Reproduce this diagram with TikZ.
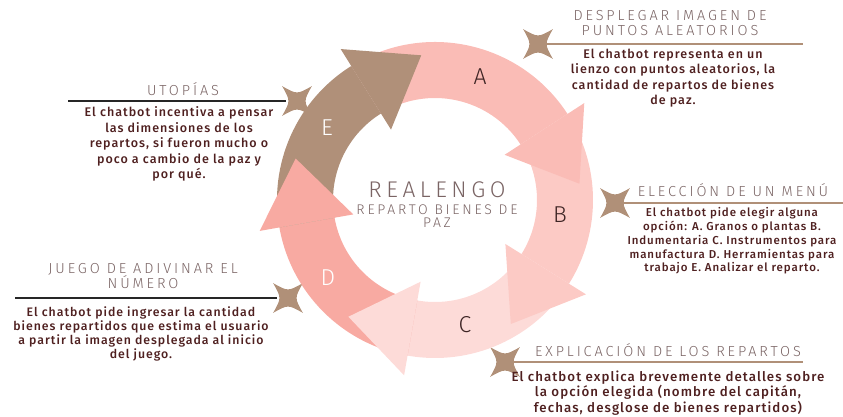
\documentclass[tikz,border=0pt]{standalone}
\usepackage{fontspec}
\setmainfont{Fira Sans}
\newfontfamily\thinfont{Fira Sans Light}[LetterSpace=20]
\newfontfamily\bodyfont{Fira Sans Medium}[LetterSpace=8]
\usetikzlibrary{calc,positioning}

\definecolor{segA}{HTML}{FABCB6}
\definecolor{segB}{HTML}{FCCAC5}
\definecolor{segC}{HTML}{FDDBD8}
\definecolor{segD}{HTML}{F8AAA2}
\definecolor{segE}{HTML}{B09079}
\definecolor{starbrown}{HTML}{B09078}
\definecolor{titlegray}{HTML}{7A6464}
\definecolor{bodyred}{HTML}{4F2020}
\definecolor{letterdark}{HTML}{3D2424}

% ring band from angle #2 to #3, and arrow head at base angle #2
\newcommand\ringbody[3]{\fill[#1] (#2:102) arc[start angle=#2,end angle=#3,radius=102] -- (#3:158) arc[start angle=#3,end angle=#2,radius=158] -- cycle;}
\newcommand\ringhead[2]{\fill[#1] (#2:83) -- (#2:178) -- ($(#2:130)+(#2-90:65)$) -- cycle;}

\begin{document}
\begin{tikzpicture}[x=1pt,y=-1pt,
    title/.style={text=titlegray,align=center,font=\thinfont\fontsize{14.5}{15}\selectfont},
    body/.style={text=bodyred,align=center,font=\bodyfont\fontsize{12.5}{15.5}\selectfont},
    leftrule/.style={draw=black!85,line width=2pt,shorten >=11pt},
    rightrule/.style={draw=starbrown,line width=1.3pt},
    seglabel/.style={font=\thinfont\fontsize{23}{23}\selectfont},
    sparkle/.pic={
      \fill[starbrown] (45:21) \foreach \a in {135,225,315,45} { .. controls (\a-45:6.5) .. (\a:21) } -- cycle;
    }
  ]
  \useasboundingbox (0,0) rectangle (843,417);

  % rules to the sparkles
  \coordinate (utoL) at (68,101);
  \coordinate (utoS) at (297,101);
  \coordinate (despS) at (538,44);
  \coordinate (despR) at (803,44);
  \coordinate (elecS) at (615,203);
  \coordinate (elecR) at (843,203);
  \coordinate (juegL) at (15,298);
  \coordinate (juegS) at (288,298);
  \coordinate (explS) at (505,362);
  \coordinate (explR) at (803,362);
  \draw[leftrule] (utoL) -- (utoS);
  \draw[leftrule] (juegL) -- (juegS);
  \draw[rightrule] (despS) -- (despR);
  \draw[rightrule] (elecS) -- (elecR);
  \draw[rightrule] (explS) -- (explR);
  \foreach \s in {utoS,despS,elecS,juegS,explS}
    \pic at (\s) {sparkle};

  % cycle
  \begin{scope}[shift={(435,200)},y=1pt]
    \ringbody{segA}{122}{33}
    \ringbody{segB}{33}{-32}
    \ringbody{segC}{-32}{-100}
    \ringbody{segD}{-100}{-170}
    \ringbody{segE}{-170}{-238}
    \ringhead{segA}{33}
    \ringhead{segB}{-32}
    \ringhead{segC}{-100}
    \ringhead{segD}{-170}
    \ringhead{segE}{122}
  \end{scope}

  \node[seglabel,text=letterdark] (lA) at (480,77) {A};
  \node[seglabel,text=letterdark] (lB) at (560,215) {B};
  \node[seglabel,text=letterdark] (lC) at (465,325) {C};
  \node[seglabel,text=white] (lD) at (328,278) {D};
  \node[seglabel,text=white] (lE) at (327,128) {E};

  \node[text=titlegray,font=\thinfont\fontsize{22.7}{23}\selectfont] (realengo) at (437,190) {REALENGO};
  \node[title,font=\thinfont\fontsize{14}{13}\selectfont] (reparto) at (437,216) {REPARTO BIENES DE\\PAZ};

  % texts
  \node[title] (utoT) at (183,89) {UTOPÍAS};
  \node[body] (utoB) at (179,144) {El chatbot incentiva a pensar\\las dimensiones de los\\repartos, si fueron mucho o\\poco a cambio de la paz y\\por qué.};

  \node[title] (despT) at (670,23) {DESPLEGAR IMAGEN DE\\PUNTOS ALEATORIOS};
  \node[body] (despB) at (673,78) {El chatbot representa en un\\lienzo con puntos aleatorios, la\\cantidad de repartos de bienes\\de paz.};

  \node[title] (elecT) at (733,190) {ELECCIÓN DE UN MENÚ};
  \node[body,font=\bodyfont\fontsize{11.5}{13.7}\selectfont] (elecB) at (732,241) {El chatbot pide elegir alguna\\opción: A. Granos o plantas B.\\Indumentaria C. Instrumentos para\\manufactura D. Herramientas para\\trabajo E. Analizar el reparto.};

  \node[title] (juegT) at (143,276) {JUEGO DE ADIVINAR EL\\NÚMERO};
  \node[body,font=\bodyfont\fontsize{12.3}{14}\selectfont] (juegB) at (141,334) {El chatbot pide ingresar la cantidad\\bienes repartidos que estima el usuario\\a partir la imagen desplegada al inicio\\del juego.};

  \node[title] (explT) at (668,350) {EXPLICACIÓN DE LOS REPARTOS};
  \node[body,font=\bodyfont\fontsize{13.3}{14}\selectfont] (explB) at (668,393) {El chatbot explica brevemente detalles sobre\\la opción elegida (nombre del capitán,\\fechas, desglose de bienes repartidos)};
\end{tikzpicture}
\end{document}
